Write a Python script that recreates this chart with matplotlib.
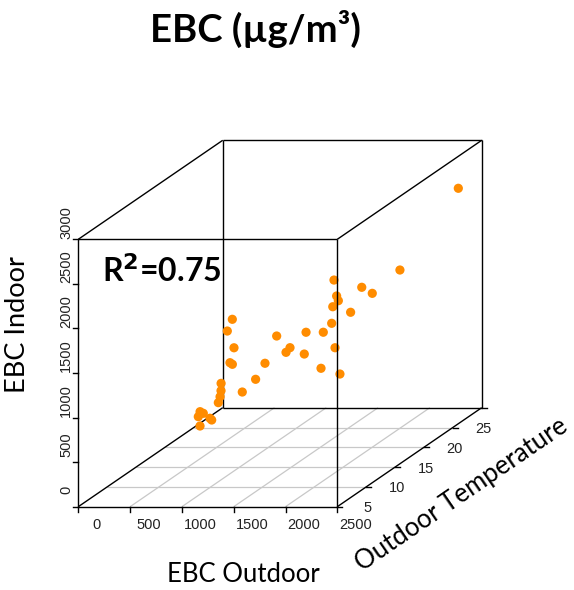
import matplotlib
matplotlib.use("Agg")
import matplotlib.pyplot as plt
import numpy as np

# ---- data -------------------------------------------------------------
ebc_outdoor = [2330, 1878, 1621, 1834, 1576, 1713, 1841, 1620, 2071, 1721,
               1417, 1139, 744, 1568, 1263, 1113, 2032, 1841, 2191, 1133,
               1154, 858, 260, 156, 332, 349, 372, 96, 151, 86,
               125, 116, 203, 323, 284, 227, 99]
outdoor_temp = [29, 27, 25, 23, 21, 19, 17, 20, 15, 18,
                22, 24, 26, 16, 19, 21, 13, 14, 11, 17,
                15, 18, 27, 28, 26, 25, 25, 28, 27, 28,
                27, 24, 23, 22, 23, 22, 24]
ebc_indoor = [2506, 1678, 1573, 1594, 1832, 1742, 1778, 1577, 1737, 1480,
              1202, 1113, 982, 1224, 1162, 1021, 1428, 1153, 1222, 1076,
              985, 709, 1125, 949, 850, 727, 709, 362, 324, 212,
              190, 222, 248, 237, 173, 150, 166]

x_ticks = [0, 500, 1000, 1500, 2000, 2500]
y_ticks = [5, 10, 15, 20, 25, 30]
y_labels = ["5", "10", "15", "20", "25", ""]
z_ticks = [0, 500, 1000, 1500, 2000, 2500, 3000]
xlim = (0, 2500)
ylim = (5, 30)
zlim = (0, 3000)

title = "EBC (µg/m³)"
r2_text = "R$^{\\mathbf{2}}$=0.75"

# ---- oblique projection (scatterplot3d style) -------------------------
O = (78.3, 506.7)
LX, LZ = 259.0, 267.4
D = (144.4, -99.0)


def proj(x, y, z):
    x = np.asarray(x, float); y = np.asarray(y, float); z = np.asarray(z, float)
    fx = (x - xlim[0]) / (xlim[1] - xlim[0])
    fy = (y - ylim[0]) / (ylim[1] - ylim[0])
    fz = (z - zlim[0]) / (zlim[1] - zlim[0])
    return O[0] + fx * LX + fy * D[0], O[1] - fz * LZ + fy * D[1]


fig = plt.figure(figsize=(5.74, 5.90), dpi=100)
ax = fig.add_axes([0, 0, 1, 1])
ax.set_xlim(0, 574)
ax.set_ylim(590, 0)
ax.axis("off")

tick_font = dict(family=["Liberation Sans", "DejaVu Sans"], fontsize=10.5, color="#222222")
lab_font = ["Lato", "DejaVu Sans"]


def seg(p, q, **kw):
    a = proj(*p); b = proj(*q)
    ax.plot([a[0], b[0]], [a[1], b[1]], solid_capstyle="butt", **kw)


x0, x1 = xlim; y0, y1 = ylim; z0, z1 = zlim
box_kw = dict(color="black", lw=1.0)

# grid on the floor
for yt in y_ticks[1:-1]:
    seg((x0, yt, z0), (x1, yt, z0), color="#c8c8c8", lw=0.9, zorder=1)
for xt in x_ticks[1:-1]:
    seg((xt, y0, z0), (xt, y1, z0), color="#c8c8c8", lw=0.9, zorder=1)

# back box edges (behind points)
seg((x0, y1, z0), (x1, y1, z0), zorder=2, **box_kw)
seg((x0, y1, z1), (x1, y1, z1), zorder=2, **box_kw)
seg((x0, y1, z0), (x0, y1, z1), zorder=2, **box_kw)
seg((x1, y1, z0), (x1, y1, z1), zorder=2, **box_kw)
seg((x0, y0, z0), (x0, y1, z0), zorder=2, **box_kw)
seg((x0, y0, z1), (x0, y1, z1), zorder=2, **box_kw)
seg((x1, y0, z1), (x1, y1, z1), zorder=2, **box_kw)
seg((x1, y0, z0), (x1, y1, z0), zorder=2, **box_kw)

# points
px, py = proj(ebc_outdoor, outdoor_temp, ebc_indoor)
ax.scatter(px, py, s=44, color="#FF8C00", edgecolors="none", zorder=3)

# front box edges (over points)
seg((x0, y0, z0), (x1, y0, z0), zorder=4, **box_kw)
seg((x0, y0, z1), (x1, y0, z1), zorder=4, **box_kw)
seg((x0, y0, z0), (x0, y0, z1), zorder=4, **box_kw)
seg((x1, y0, z0), (x1, y0, z1), zorder=4, **box_kw)

# x ticks
for xt in x_ticks:
    tx, ty = proj(xt, y0, z0)
    ax.plot([tx, tx], [ty, ty + 5], color="black", lw=1.0)
    ax.text(tx + 18.4, ty + 18.5, f"{xt}", ha="center", va="center", **tick_font)

# z ticks
for zt in z_ticks:
    tx, ty = proj(x0, y0, zt)
    ax.plot([tx - 5, tx], [ty, ty], color="black", lw=1.0)
    ax.text(66, ty - 17, f"{zt}", ha="center", va="center", rotation=90, **tick_font)

# y ticks
for yt, yl in zip(y_ticks, y_labels):
    tx, ty = proj(x1, yt, z0)
    ax.plot([tx, tx + 5], [ty, ty], color="black", lw=1.0)
    if yl:
        ax.text(tx + 30.5, ty + 1.5, yl, ha="center", va="center", **tick_font)

# titles & axis labels
ax.text(255, 29, title, ha="center", va="center", fontsize=27.5, fontweight="bold",
        family=lab_font)
ax.text(102, 282, r2_text, ha="left", va="baseline", fontsize=23, fontweight="bold",
        family=lab_font)
ax.text(243, 575, "EBC Outdoor", ha="center", va="center", fontsize=18.5, family=lab_font)
ax.text(18, 325, "EBC Indoor", ha="center", va="center", fontsize=19.5, rotation=90,
        family=lab_font)
ang = np.degrees(np.arctan2(-D[1], D[0]))
ax.text(462, 495, "Outdoor Temperature", ha="center", va="center", fontsize=18.5,
        rotation=ang, rotation_mode="anchor", family=lab_font)

fig.savefig("out.png", dpi=100)
